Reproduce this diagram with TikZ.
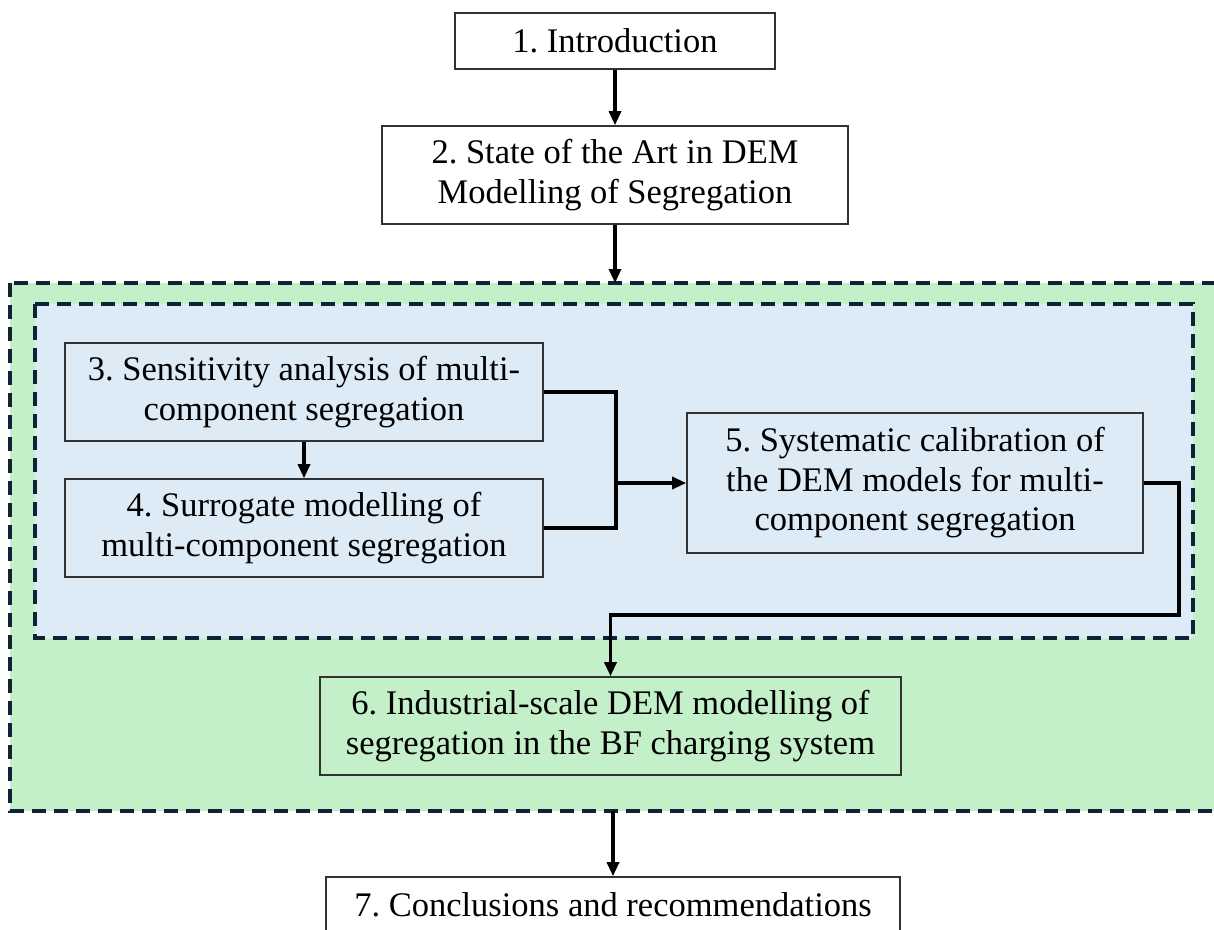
\documentclass[tikz,border=0pt]{standalone}
\usepackage{fontspec}
\setmainfont{Liberation Serif}
\usetikzlibrary{arrows.meta}
\definecolor{greenbg}{RGB}{196,240,201}
\definecolor{bluebg}{RGB}{221,235,247}
\definecolor{dashcol}{RGB}{14,36,54}
\definecolor{boxline}{RGB}{50,50,50}
\begin{document}
\frenchspacing
\begin{tikzpicture}[x=1pt,y=-1pt,
  box/.style={draw=boxline,line width=1.6pt,inner sep=0pt,align=center,
    font=\fontsize{34.5}{39.5}\selectfont\frenchspacing},
  conn/.style={line width=3.2pt,black,line join=miter},
  arr/.style={conn,-{Triangle[length=14pt,width=12pt]}},
  region/.style={draw=dashcol,line width=3.6pt,dash pattern=on 14pt off 8pt}]
\clip (0,0) rectangle (1214,929);
\fill[white] (0,0) rectangle (1214,929);
\draw[region,fill=greenbg] (10,283) rectangle (1240,811);
\draw[region,fill=bluebg] (35,304) rectangle (1193,638);

\node[box,fill=white,minimum width=320pt,minimum height=56pt] (b1) at (615,41) {1. Introduction};
\node[box,fill=white,minimum width=466pt,minimum height=98pt] (b2) at (615,175) {2. State of the Art in DEM\\Modelling of Segregation};
\node[box,fill=bluebg,minimum width=478pt,minimum height=98pt] (b3) at (304,392) {3. Sensitivity analysis of multi-\\component segregation};
\node[box,fill=bluebg,minimum width=478pt,minimum height=98pt] (b4) at (304,528) {4. Surrogate modelling of\\multi-component segregation};
\node[box,fill=bluebg,minimum width=456pt,minimum height=140pt] (b5) at (915,483) {5. Systematic calibration of\\the DEM models for multi-\\component segregation};
\node[box,fill=greenbg,minimum width=581pt,minimum height=98pt] (b6) at (610.5,726) {6. Industrial-scale DEM modelling of\\segregation in the BF charging system};
\node[box,fill=white,minimum width=574pt,minimum height=56pt] (b7) at (613,905) {7. Conclusions and recommendations};

\coordinate (gtop) at (615,283);
\coordinate (j) at (616,483);
\coordinate (k1) at (1179,615);
\coordinate (gbot) at (613,811);

\draw[arr] (b1.south) -- (b2.north);
\draw[arr] (b2.south) -- (gtop);
\draw[arr] (b3.south) -- (b4.north);
\draw[conn] (b3.east) -| (j);
\draw[conn] (b4.east) -| (j);
\draw[arr] (j) -- (b5.west);
\draw[arr] (b5.east) -| (k1) -| (b6.north);
\draw[arr] (gbot) -- (b7.north);
\end{tikzpicture}
\end{document}
